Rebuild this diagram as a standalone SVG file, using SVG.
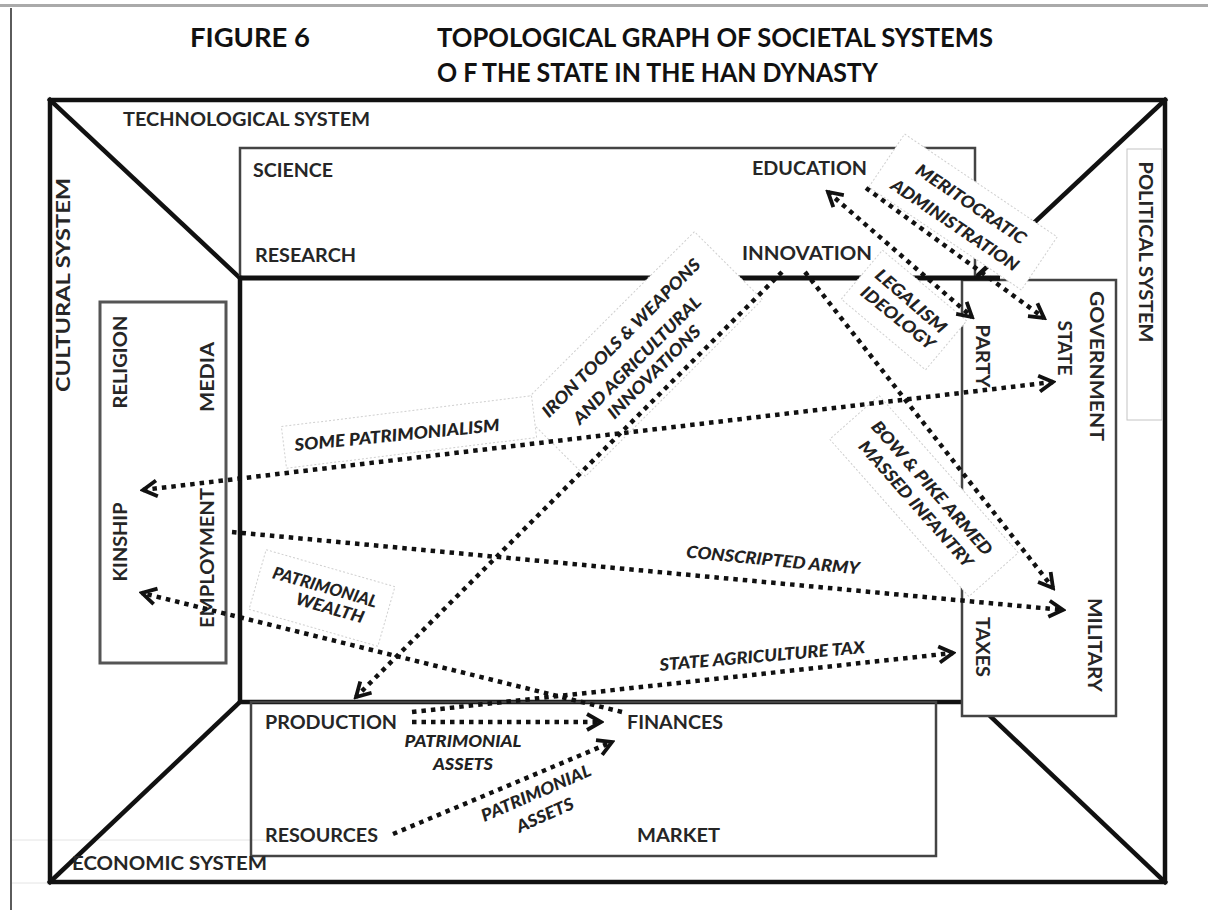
<svg xmlns="http://www.w3.org/2000/svg" width="1208" height="910" viewBox="0 0 1208 910">
<style>
.t{font-family:Lato,"Open Sans","Liberation Sans",sans-serif;font-weight:bold;fill:#111}
.n{font-family:Lato,"Open Sans","Liberation Sans",sans-serif;font-weight:bold;font-size:19px;fill:#262626}
.v{text-anchor:middle}
.l{font-family:Lato,"Open Sans","Liberation Sans",sans-serif;font-weight:900;font-style:italic;font-size:17px;fill:#222;text-anchor:middle}
.c{fill:none;stroke:#111;stroke-width:4.5;stroke-dasharray:4.5 5}
.lb{fill:#fff;stroke:#cfcfcf;stroke-width:1;stroke-dasharray:2 2}
.heavy{fill:none;stroke:#111;stroke-width:4.5;stroke-linecap:square}
.thin{fill:none;stroke:#444;stroke-width:2.5}
</style>
<defs>
<marker id="ah" viewBox="0 0 20 22" refX="17" refY="11" markerWidth="20" markerHeight="22" markerUnits="userSpaceOnUse" orient="auto-start-reverse">
<path d="M3,3 L17,11 L3,19" fill="none" stroke="#111" stroke-width="3.8" stroke-linejoin="miter"/>
</marker>
</defs>
<rect width="1208" height="910" fill="#fff"/>
<g id="page-frame">
<line x1="0" y1="5.5" x2="1208" y2="5.5" stroke="#aaa" stroke-width="3"/>
<line x1="11" y1="8" x2="11" y2="910" stroke="#333" stroke-width="1.6"/>
<path d="M12,840 H320 M12,883 H320" stroke="#e4e4e4" stroke-width="1" fill="none"/>
</g>
<g id="title">
<text class="t" x="190" y="47" font-size="26" textLength="120" lengthAdjust="spacingAndGlyphs">FIGURE 6</text>
<text class="t" x="437" y="47" font-size="26" textLength="556" lengthAdjust="spacingAndGlyphs">TOPOLOGICAL GRAPH OF SOCIETAL SYSTEMS</text>
<text class="t" x="437" y="82" font-size="26" textLength="441" lengthAdjust="spacingAndGlyphs">O F THE STATE IN THE HAN DYNASTY</text>
</g>
<g id="outer-frame">
<rect x="50" y="100" width="1115" height="782" class="heavy"/>
<line x1="50" y1="100" x2="240" y2="278" class="heavy"/>
<line x1="50" y1="882" x2="240" y2="702" class="heavy"/>
<line x1="1165" y1="100" x2="975" y2="278" class="heavy"/>
<line x1="1165" y1="882" x2="990" y2="716" class="heavy"/>
</g>
<g id="technological-system">
<rect x="240" y="148" width="735" height="130" class="thin"/>
</g>
<g id="inner-society">
<path d="M240,278 V702 H962" class="heavy" stroke-linecap="butt"/>
</g>
<g id="political-box">
<rect x="1127" y="149" width="35" height="271" fill="none" stroke="#c4c4c4" stroke-width="1"/>
</g>
<g id="cultural-box">
<rect x="100" y="302" width="126" height="361" fill="none" stroke="#555" stroke-width="3"/>
</g>
<g id="economic-box">
<rect x="251" y="702" width="685" height="154" fill="none" stroke="#444" stroke-width="2.5"/>
</g>
<g id="government-box">
<rect x="962" y="280" width="154" height="436" fill="#fff" stroke="#444" stroke-width="2.5"/>
</g>
<line id="research-bar" x1="240" y1="278" x2="1000" y2="278" stroke="#111" stroke-width="5"/>
<g id="label-boxes">
<rect class="lb" x="-92" y="-32" width="184" height="64" transform="translate(963,212) rotate(34)"/>
<rect class="lb" x="-55" y="-32" width="110" height="64" transform="translate(904,310) rotate(40)"/>
<rect class="lb" x="-125" y="-48" width="250" height="96" transform="translate(640,354) rotate(-45)"/>
<rect class="lb" x="-105" y="-33" width="210" height="66" transform="translate(924,496) rotate(48.5)"/>
<rect class="lb" x="-126" y="-21" width="252" height="42" transform="translate(409,432) rotate(-7)"/>
<rect class="lb" x="-67" y="-31" width="134" height="62" transform="translate(322,598) rotate(16)"/>
</g>
<g id="node-technological-system"><text class="n" x="123" y="126" textLength="247" lengthAdjust="spacingAndGlyphs">TECHNOLOGICAL SYSTEM</text></g>
<g id="node-science"><text class="n" x="253" y="177" textLength="80" lengthAdjust="spacingAndGlyphs">SCIENCE</text></g>
<g id="node-research"><text class="n" x="255" y="262" textLength="101" lengthAdjust="spacingAndGlyphs">RESEARCH</text></g>
<g id="node-education"><text class="n" x="752" y="175" textLength="115" lengthAdjust="spacingAndGlyphs">EDUCATION</text></g>
<g id="node-innovation"><text class="n" x="742" y="260" textLength="130" lengthAdjust="spacingAndGlyphs">INNOVATION</text></g>
<g id="node-production"><text class="n" x="265" y="729" textLength="132" lengthAdjust="spacingAndGlyphs">PRODUCTION</text></g>
<g id="node-finances"><text class="n" x="627" y="729" textLength="96" lengthAdjust="spacingAndGlyphs">FINANCES</text></g>
<g id="node-resources"><text class="n" x="265" y="842" textLength="113" lengthAdjust="spacingAndGlyphs">RESOURCES</text></g>
<g id="node-market"><text class="n" x="637" y="842" textLength="83" lengthAdjust="spacingAndGlyphs">MARKET</text></g>
<g id="node-economic-system"><text class="n" x="72" y="870" textLength="195" lengthAdjust="spacingAndGlyphs">ECONOMIC SYSTEM</text></g>
<g id="node-cultural-system"><text class="n v" transform="translate(63,285) rotate(-90)" y="7" textLength="214" lengthAdjust="spacingAndGlyphs">CULTURAL SYSTEM</text></g>
<g id="node-religion"><text class="n v" transform="translate(120,362) rotate(-90)" y="7" textLength="93" lengthAdjust="spacingAndGlyphs">RELIGION</text></g>
<g id="node-media"><text class="n v" transform="translate(207,377) rotate(-90)" y="7" textLength="70" lengthAdjust="spacingAndGlyphs">MEDIA</text></g>
<g id="node-kinship"><text class="n v" transform="translate(120,542) rotate(-90)" y="7" textLength="79" lengthAdjust="spacingAndGlyphs">KINSHIP</text></g>
<g id="node-employment"><text class="n v" transform="translate(207,558) rotate(-90)" y="7" textLength="140" lengthAdjust="spacingAndGlyphs">EMPLOYMENT</text></g>
<g id="node-political-system"><text class="n v" transform="translate(1146,252) rotate(90)" y="7" textLength="181" lengthAdjust="spacingAndGlyphs">POLITICAL SYSTEM</text></g>
<g id="node-party"><text class="n v" transform="translate(983,356) rotate(90)" y="7" textLength="63" lengthAdjust="spacingAndGlyphs">PARTY</text></g>
<g id="node-state"><text class="n v" transform="translate(1065,348) rotate(90)" y="7" textLength="55" lengthAdjust="spacingAndGlyphs">STATE</text></g>
<g id="node-government"><text class="n v" transform="translate(1097,366) rotate(90)" y="7" textLength="150" lengthAdjust="spacingAndGlyphs">GOVERNMENT</text></g>
<g id="node-taxes"><text class="n v" transform="translate(983,647) rotate(90)" y="7" textLength="60" lengthAdjust="spacingAndGlyphs">TAXES</text></g>
<g id="node-military"><text class="n v" transform="translate(1095,645) rotate(90)" y="7" textLength="94" lengthAdjust="spacingAndGlyphs">MILITARY</text></g>
<g id="connectors">
<line class="c" x1="866" y1="188" x2="1044" y2="318" marker-end="url(#ah)"/>
<line class="c" x1="828" y1="192" x2="972" y2="317" marker-start="url(#ah)" marker-end="url(#ah)"/>
<line class="c" x1="782" y1="272" x2="356" y2="697" marker-end="url(#ah)"/>
<line class="c" x1="805" y1="272" x2="1053" y2="588" marker-end="url(#ah)"/>
<line class="c" x1="143" y1="490" x2="1053" y2="382" marker-start="url(#ah)" marker-end="url(#ah)"/>
<line class="c" x1="232" y1="532" x2="1063" y2="610" marker-end="url(#ah)"/>
<line class="c" x1="622" y1="712" x2="142" y2="593" marker-end="url(#ah)"/>
<line class="c" x1="412" y1="712" x2="953" y2="653" marker-end="url(#ah)"/>
<line class="c" x1="412" y1="722" x2="601" y2="722" marker-end="url(#ah)"/>
<line class="c" x1="393" y1="834" x2="612" y2="742" marker-end="url(#ah)"/>
</g>
<g id="connector-labels">
<g transform="translate(971,204) rotate(34)"><text class="l" y="6" textLength="129" lengthAdjust="spacingAndGlyphs">MERITOCRATIC</text></g>
<g transform="translate(955,225) rotate(34)"><text class="l" y="6" textLength="150" lengthAdjust="spacingAndGlyphs">ADMINISTRATION</text></g>
<g transform="translate(911,301) rotate(41)"><text class="l" y="6" textLength="88" lengthAdjust="spacingAndGlyphs">LEGALISM</text></g>
<g transform="translate(898,318) rotate(39)"><text class="l" y="6" textLength="90" lengthAdjust="spacingAndGlyphs">IDEOLOGY</text></g>
<g transform="translate(621,338) rotate(-45)"><text class="l" y="6" textLength="216" lengthAdjust="spacingAndGlyphs">IRON TOOLS &amp; WEAPONS</text></g>
<g transform="translate(637,360) rotate(-45)"><text class="l" y="6" textLength="173" lengthAdjust="spacingAndGlyphs">AND AGRICULTURAL</text></g>
<g transform="translate(654,372) rotate(-45)"><text class="l" y="6" textLength="124" lengthAdjust="spacingAndGlyphs">INNOVATIONS</text></g>
<g transform="translate(932,488) rotate(48.5)"><text class="l" y="6" textLength="173" lengthAdjust="spacingAndGlyphs">BOW &amp; PIKE ARMED</text></g>
<g transform="translate(916,504) rotate(48.5)"><text class="l" y="6" textLength="163" lengthAdjust="spacingAndGlyphs">MASSED INFANTRY</text></g>
<g transform="translate(397,435) rotate(-5.6)"><text class="l" y="6" textLength="206" lengthAdjust="spacingAndGlyphs">SOME PATRIMONIALISM</text></g>
<g transform="translate(773,560) rotate(5.6)"><text class="l" y="6" textLength="174" lengthAdjust="spacingAndGlyphs">CONSCRIPTED ARMY</text></g>
<g transform="translate(762,656) rotate(-5)"><text class="l" y="6" textLength="206" lengthAdjust="spacingAndGlyphs">STATE AGRICULTURE TAX</text></g>
<g transform="translate(325,587) rotate(16)"><text class="l" y="6" textLength="108" lengthAdjust="spacingAndGlyphs">PATRIMONIAL</text></g>
<g transform="translate(330,608) rotate(16)"><text class="l" y="6" textLength="70" lengthAdjust="spacingAndGlyphs">WEALTH</text></g>
<g transform="translate(463,741)"><text class="l" y="6" textLength="117" lengthAdjust="spacingAndGlyphs">PATRIMONIAL</text></g>
<g transform="translate(463,764)"><text class="l" y="6" textLength="60" lengthAdjust="spacingAndGlyphs">ASSETS</text></g>
<g transform="translate(536,793) rotate(-23.5)"><text class="l" y="6" textLength="118" lengthAdjust="spacingAndGlyphs">PATRIMONIAL</text></g>
<g transform="translate(545,815) rotate(-24)"><text class="l" y="6" textLength="61" lengthAdjust="spacingAndGlyphs">ASSETS</text></g>
</g>
</svg>
